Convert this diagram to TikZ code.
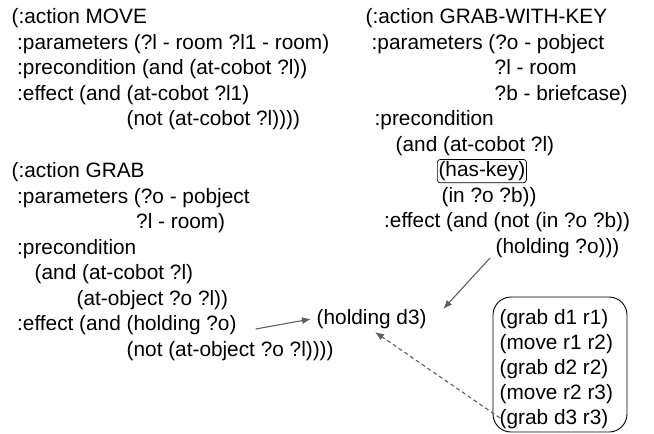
\documentclass[tikz,border=0pt]{standalone}
\usepackage{fontspec}
\setmainfont{Liberation Sans}
\usetikzlibrary{arrows.meta,calc}
\definecolor{arrowgray}{HTML}{5E5E5E}
\begin{document}
\begin{tikzpicture}[x=1pt,y=-1pt,
  txt/.style={anchor=base west,inner sep=0pt,font=\fontsize{20.8}{25}\selectfont},
  keybox/.style={txt,draw,inner xsep=1.2pt,inner ysep=2pt,rounded corners=3pt,line width=0.7pt},
  planbox/.style={draw,rounded corners=18pt,line width=0.9pt,minimum width=134pt,minimum height=135pt,inner sep=0pt},
  conn/.style={draw=arrowgray,line width=1.1pt,-{Latex[length=9pt,width=7pt]}},
  dconn/.style={conn,dash pattern=on 4pt off 3pt}]
\useasboundingbox (0,0) rectangle (654,434);
% MOVE
\node[txt] (m1) at (11.5,23.5) {(:action MOVE};
\node[txt] (m2) at (17,49) {:parameters (?l - room ?l1 - room)};
\node[txt] (m3) at (17,74.5) {:precondition (and (at-cobot ?l))};
\node[txt] (m4) at (17,100) {:effect (and (at-cobot ?l1)};
\node[txt] (m5) at (126.5,125.5) {(not (at-cobot ?l))))};
% GRAB-WITH-KEY
\node[txt] (k1) at (365.5,23.5) {(:action GRAB-WITH-KEY};
\node[txt] (k2) at (371.5,49) {:parameters (?o - pobject};
\node[txt] (k3) at (494.5,74.5) {?l - room};
\node[txt] (k4) at (494.5,100) {?b - briefcase)};
\node[txt] (k5) at (374.5,125.5) {:precondition};
\node[txt] (k6) at (395.5,151) {(and (at-cobot ?l)};
\node[keybox] (k7) at (437,176.5) {(has-key)};
\node[txt] (k8) at (441.5,202) {(in ?o ?b))};
\node[txt] (k9) at (384,227.5) {:effect (and (not (in ?o ?b))};
\node[txt] (k10) at (495.5,253) {(holding ?o)))};
% GRAB
\node[txt] (g1) at (11.5,177.5) {(:action GRAB};
\node[txt] (g2) at (17,203) {:parameters (?o - pobject};
\node[txt] (g3) at (136,228.5) {?l - room)};
\node[txt] (g4) at (17,254) {:precondition};
\node[txt] (g5) at (34.5,279.5) {(and (at-cobot ?l)};
\node[txt] (g6) at (76.5,305) {(at-object ?o ?l))};
\node[txt] (g7) at (17,330.5) {:effect (and (holding ?o)};
\node[txt] (g8) at (126.5,356) {(not (at-object ?o ?l))))};
% goal
\node[txt] (hd3) at (316.5,324.5) {(holding d3)};
% plan
\node[planbox] (plan) at (560,364.5) {};
\node[txt] (p1) at (499.5,324) {(grab d1 r1)};
\node[txt] (p2) at (499.5,349) {(move r1 r2)};
\node[txt] (p3) at (499.5,374) {(grab d2 r2)};
\node[txt] (p4) at (499.5,399) {(move r2 r3)};
\node[txt] (p5) at (499.5,424) {(grab d3 r3)};
% connectors
\draw[conn] ($(g7.base east)+(19,-1.5)$) -- ($(hd3.base west)+(-5.5,-5.5)$);
\draw[conn] ($(k10.base west)+(-5.5,5)$) -- ($(hd3.base east)+(16.5,-15.5)$);
\draw[dconn] ($(p5.base west)+(0.5,-6)$) -- ($(hd3.base west)+(58.5,7.5)$);
\end{tikzpicture}
\end{document}
